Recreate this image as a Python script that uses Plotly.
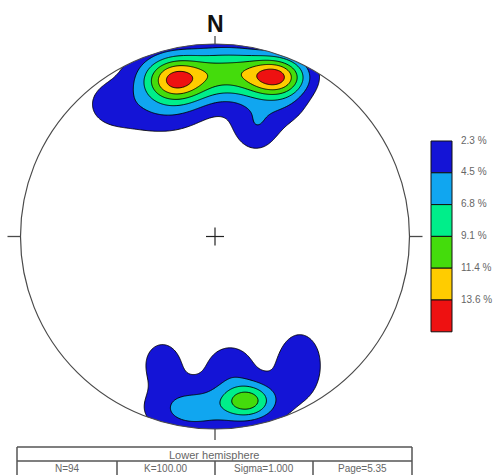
import numpy as np
import plotly.graph_objects as go

# ---------------- data ----------------
levels = [2.3, 4.5, 6.8, 9.1, 11.4, 13.6]
level_labels = ["2.3 %", "4.5 %", "6.8 %", "9.1 %", "11.4 %", "13.6 %"]
level_colors = ["#1414d6", "#10a6f0", "#00ee8a", "#44dc0c", "#ffcc00", "#ee1111"]

# pole-density clusters, stereonet unit coordinates (radius 1), amplitude in %
clu_x   = [-0.206, 0.319, 0.077, -0.051, 0.211, -0.550, -0.283, 0.375,
            0.165, -0.129, 0.087, -0.272, 0.077, 0.437]
clu_y   = [0.813, 0.829, 0.849, 0.865, 0.568, 0.683, 0.635, 0.668,
           -0.852, -0.900, -0.875, -0.642, -0.652, -0.631]
clu_sx  = [0.113, 0.108, 0.144, 0.334, 0.093, 0.103, 0.190, 0.093,
           0.092, 0.150, 0.386, 0.082, 0.093, 0.093]
clu_sy  = [0.083, 0.073, 0.094, 0.130, 0.104, 0.094, 0.100, 0.083,
           0.064, 0.088, 0.156, 0.094, 0.083, 0.125]
clu_amp = [10.6, 11.4, 6.0, 3.5, 3.9, 2.0, 3.1, 2.2,
           7.8, 3.4, 2.5, 3.0, 2.8, 3.5]

north_label = "N"
hemisphere = "Lower hemisphere"
stats = ["N=94", "K=100.00", "Sigma=1.000", "Page=5.35"]

# ---------------- density grid ----------------
g = np.linspace(-1.06, 1.06, 425)
X, Y = np.meshgrid(g, g)
Z = np.zeros_like(X)
for cx, cy, sx, sy, a in zip(clu_x, clu_y, clu_sx, clu_sy, clu_amp):
    Z += a * np.exp(-((X - cx) ** 2 / (2 * sx ** 2) + (Y - cy) ** 2 / (2 * sy ** 2)))

W, H = 496, 475
# pixel geometry of the net
CX, CY, RX, RY = 215.0, 236.5, 194.5, 192.5
xr = [(0 - CX) / RX, (W - CX) / RX]
yr = [(CY - H) / RY, CY / RY]

n = len(levels)
step = (levels[-1] - levels[0]) / (n - 1)
cscale = [[0.0, "#ffffff"]] + [[(i + 1) / n, c] for i, c in enumerate(level_colors)]

fig = go.Figure()
fig.add_trace(go.Contour(
    x=g, y=g, z=Z,
    autocontour=False,
    contours=dict(start=levels[0], end=levels[-1] + step * 0.3, size=step,
                  coloring="fill", showlines=True),
    line=dict(color="black", width=0.9),
    colorscale=cscale, showscale=False, hoverinfo="skip",
))

shapes = []
# white mask outside the primitive circle
t = np.linspace(0, 2 * np.pi, 361)
circ = "M1,0 " + " ".join(f"L{np.cos(a):.5f},{np.sin(a):.5f}" for a in t[1:]) + " Z"
mask = "M-1.09,-1.09 L1.09,-1.09 L1.09,1.09 L-1.09,1.09 Z " + circ
shapes.append(dict(type="path", path=mask, xref="x", yref="y", fillcolor="white",
                   line=dict(width=0), layer="above", fillrule="evenodd"))
shapes.append(dict(type="circle", xref="x", yref="y", x0=-1, y0=-1, x1=1, y1=1,
                   line=dict(color="#4a4a4a", width=1.2), layer="above"))
# ticks
tk = dict(color="#4a4a4a", width=1.3)
shapes += [
    dict(type="line", xref="x", yref="y", x0=0, x1=0, y0=1, y1=1 + 8 / RY, line=tk, layer="above"),
    dict(type="line", xref="x", yref="y", x0=0, x1=0, y0=-1, y1=-1 - 11 / RY, line=tk, layer="above"),
    dict(type="line", xref="x", yref="y", y0=0, y1=0, x0=-1, x1=-1 - 13 / RX, line=tk, layer="above"),
    dict(type="line", xref="x", yref="y", y0=0, y1=0, x0=1, x1=1 + 13 / RX, line=tk, layer="above"),
    # centre cross
    dict(type="line", xref="x", yref="y", x0=-9 / RX, x1=9 / RX, y0=0, y1=0, line=dict(color="#222", width=1.2), layer="above"),
    dict(type="line", xref="x", yref="y", x0=0, x1=0, y0=-9 / RY, y1=9 / RY, line=dict(color="#222", width=1.2), layer="above"),
]

def px(x):
    return x / W

def py(y):
    return 1 - y / H

# legend
lx0, lx1, ltop, lh = 431, 452, 141, 31.8
annotations = []
for i, (lab, col) in enumerate(zip(level_labels, level_colors)):
    y0 = ltop + i * lh
    shapes.append(dict(type="rect", xref="paper", yref="paper",
                       x0=px(lx0), x1=px(lx1), y0=py(y0), y1=py(y0 + lh),
                       fillcolor=col, line=dict(color="#111", width=1), layer="above"))
    annotations.append(dict(x=px(459), y=py(y0 - 1), xref="paper", yref="paper",
                            text=lab, showarrow=False, xanchor="left", yanchor="middle",
                            font=dict(size=10, color="#666", family="Liberation Sans, Arial")))

# table
tx0, tx1, ty0, ty1, ty2 = 17, 412, 447, 461, 476
lc = dict(color="#555", width=1.5)
shapes += [
    dict(type="line", xref="paper", yref="paper", x0=px(tx0), x1=px(tx1), y0=py(ty0), y1=py(ty0), line=lc, layer="above"),
    dict(type="line", xref="paper", yref="paper", x0=px(tx0), x1=px(tx1), y0=py(ty1), y1=py(ty1), line=lc, layer="above"),
    dict(type="line", xref="paper", yref="paper", x0=px(tx0), x1=px(tx0), y0=py(ty0), y1=py(ty2), line=lc, layer="above"),
    dict(type="line", xref="paper", yref="paper", x0=px(tx1), x1=px(tx1), y0=py(ty0), y1=py(ty2), line=lc, layer="above"),
]
cols = [tx0, 117, 215, 313, tx1]
for c in cols[1:-1]:
    shapes.append(dict(type="line", xref="paper", yref="paper", x0=px(c), x1=px(c),
                       y0=py(ty1), y1=py(ty2), line=lc, layer="above"))
annotations.append(dict(x=px((tx0 + tx1) / 2), y=py((ty0 + ty1) / 2 + 0.5), xref="paper", yref="paper",
                        text=hemisphere, showarrow=False, xanchor="center", yanchor="middle",
                        font=dict(size=11, color="#666", family="Liberation Sans, Arial")))
for i, s in enumerate(stats):
    annotations.append(dict(x=px((cols[i] + cols[i + 1]) / 2), y=py(468), xref="paper", yref="paper",
                            text=s, showarrow=False, xanchor="center", yanchor="middle",
                            font=dict(size=10, color="#666", family="Liberation Sans, Arial")))
# north label
annotations.append(dict(x=0, y=(CY - 24) / RY, xref="x", yref="y", text=f"<b>{north_label}</b>",
                        showarrow=False, xanchor="center", yanchor="middle",
                        font=dict(size=23, color="#111", family="Liberation Sans, Arial")))

fig.update_layout(
    width=W, height=H, margin=dict(l=0, r=0, t=0, b=0),
    paper_bgcolor="white", plot_bgcolor="white",
    xaxis=dict(range=xr, visible=False, fixedrange=True),
    yaxis=dict(range=yr, visible=False, fixedrange=True),
    shapes=shapes, annotations=annotations, showlegend=False,
)
fig.write_html("out.html", config={"displayModeBar": False},
               post_script="document.body.style.margin='0px';document.body.style.padding='0px';")
